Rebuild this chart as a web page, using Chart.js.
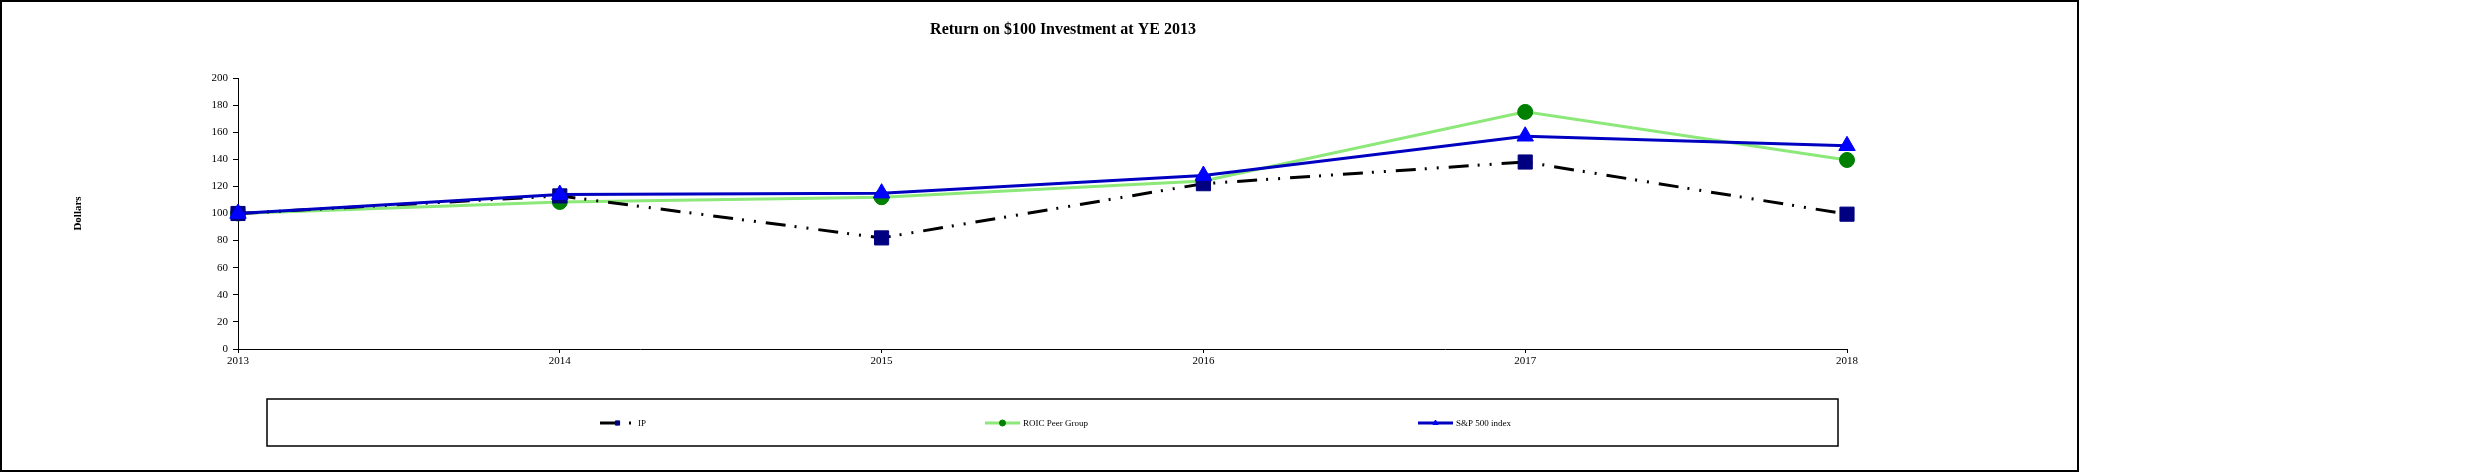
<!DOCTYPE html>
<html>
<head>
<meta charset="utf-8">
<script src="https://cdn.jsdelivr.net/npm/chart.js@4.4.0/dist/chart.umd.min.js"></script>
<style>
  html, body { margin: 0; padding: 0; background: #fff; }
  #wrap { width: 2489px; height: 475px; }
</style>
</head>
<body>
<div id="wrap"><canvas id="lineChart" width="2489" height="475"></canvas></div>
<script>
// data
var years = ["2013", "2014", "2015", "2016", "2017", "2018"];
var ipValues = [100, 113, 82, 122, 138, 99.5];
var roicValues = [100, 108.5, 112, 124, 175, 139.5];
var spValues = [100, 114, 115, 128, 157, 150];
var seriesNames = ["IP", "ROIC Peer Group", "S&P 500 index"];
var chartTitle = "Return on $100 Investment at YE 2013";
var yMin = 0, yMax = 200, yStep = 20;

var serif = "'Liberation Serif', 'Times New Roman', serif";

//-------------
//- FRAME, TITLE + LEGEND BOX (Excel style) -
//-------------
var framePlugin = {
  id: "frame",
  afterDraw: function (chart) {
    var ctx = chart.ctx;
    ctx.save();
    // outer chart border
    ctx.strokeStyle = "#000";
    ctx.lineWidth = 2;
    ctx.strokeRect(1, 1, 2077, 470);

    // title, centred on the whole frame like Excel does
    ctx.fillStyle = "#000";
    ctx.font = "bold 16px " + serif;
    ctx.textAlign = "center";
    ctx.textBaseline = "middle";
    ctx.fillText(chartTitle, 1063, 30);

    // legend box
    ctx.lineWidth = 1.5;
    ctx.strokeRect(267, 399, 1571, 47);

    var legendX = [600, 985, 1418];
    var legendY = 423;
    var lineLen = 35;
    ctx.font = "9px " + serif;
    ctx.textAlign = "left";
    chart.data.datasets.forEach(function (ds, i) {
      var x0 = legendX[i];
      ctx.save();
      ctx.strokeStyle = ds.borderColor;
      ctx.lineWidth = ds.borderWidth;
      ctx.setLineDash(ds.borderDash || []);
      ctx.beginPath();
      ctx.moveTo(x0, legendY);
      ctx.lineTo(x0 + lineLen, legendY);
      ctx.stroke();
      ctx.restore();
      ctx.fillStyle = ds.pointBackgroundColor;
      ctx.strokeStyle = ds.pointBorderColor;
      ctx.lineWidth = 1;
      Chart.helpers.drawPoint(ctx, { pointStyle: ds.pointStyle, rotation: 0, borderWidth: 1, radius: 3 }, x0 + lineLen / 2, legendY);
      ctx.fillStyle = "#000";
      ctx.fillText(ds.label, x0 + lineLen + 3, legendY + 1);
    });
    ctx.restore();
  }
};

var lineCanvas = document.getElementById("lineChart").getContext("2d");

var lineChart = new Chart(lineCanvas, {
  type: "line",
  data: {
    labels: years,
    datasets: [
      {
        label: seriesNames[0],
        data: ipValues,
        borderColor: "#000000",
        borderWidth: 3,
        borderDash: [20, 9, 2, 10, 2, 10],
        pointStyle: "rect",
        pointRadius: 10,
        pointBackgroundColor: "#000080",
        pointBorderColor: "#000080",
        pointBorderWidth: 1,
        fill: false,
        tension: 0,
        order: 1
      },
      {
        label: seriesNames[1],
        data: roicValues,
        borderColor: "#8CE878",
        borderWidth: 3,
        pointStyle: "circle",
        pointRadius: 7.5,
        pointBackgroundColor: "#008000",
        pointBorderColor: "#008000",
        pointBorderWidth: 1,
        fill: false,
        tension: 0,
        order: 2
      },
      {
        label: seriesNames[2],
        data: spValues,
        borderColor: "#0000C0",
        borderWidth: 3,
        pointStyle: "triangle",
        pointRadius: 9.5,
        pointBackgroundColor: "#0000FF",
        pointBorderColor: "#0000FF",
        pointBorderWidth: 1,
        fill: false,
        tension: 0,
        order: 0
      }
    ]
  },
  options: {
    responsive: false,
    animation: false,
    devicePixelRatio: 1,
    events: [],
    layout: {
      padding: { left: 0, right: 642, top: 78, bottom: 0 }
    },
    plugins: {
      legend: { display: false },
      tooltip: { enabled: false },
      title: { display: false }
    },
    scales: {
      x: {
        type: "category",
        offset: false,
        grid: { display: true, drawOnChartArea: false, drawTicks: true, tickLength: 4, color: "#000" },
        border: { display: true, color: "#000", width: 1 },
        ticks: { color: "#000", font: { family: serif, size: 11 }, padding: 2, maxRotation: 0, autoSkip: false },
        afterFit: function (scale) { scale.height = 126; }
      },
      y: {
        min: yMin,
        max: yMax,
        grid: { display: true, drawOnChartArea: false, drawTicks: true, tickLength: 5, color: "#000" },
        border: { display: true, color: "#000", width: 1 },
        ticks: { stepSize: yStep, color: "#000", font: { family: serif, size: 11 }, padding: 5 },
        title: {
          display: true,
          text: "Dollars",
          color: "#000",
          font: { family: serif, size: 11, weight: "bold" },
          padding: { top: 72, bottom: 0 }
        },
        afterFit: function (scale) { scale.width = 238; }
      }
    }
  },
  plugins: [framePlugin]
});
</script>
</body>
</html>
